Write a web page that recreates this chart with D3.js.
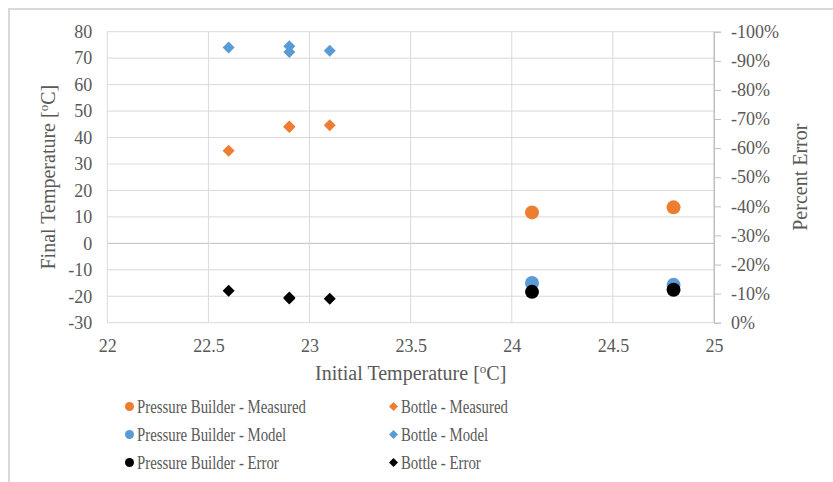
<!DOCTYPE html>
<html>
<head>
<meta charset="utf-8">
<script src="https://cdn.jsdelivr.net/npm/d3@7"></script>
<style>
  html, body { margin: 0; padding: 0; background: #fff; }
  svg { display: block; font-family: "Liberation Serif", "Times New Roman", serif; }
  svg text { font-family: "Liberation Serif", "Times New Roman", serif !important; }
</style>
</head>
<body>
<svg id="chart" width="833" height="482"></svg>
<script>
// ---- Data ----
const bottleInitial = [22.6, 22.9, 22.9, 23.1];
const bottleMeasured = [35.0, 44.2, 44.0, 44.6];
const bottleModel = [74.0, 74.5, 72.3, 72.8];
const bottleError = [-11.0, -8.7, -8.3, -8.2];   // percent

const pbInitial = [24.1, 24.8];
const pbMeasured = [11.7, 13.6];
const pbModel = [-15.0, -15.7];
const pbError = [-10.6, -11.3];                  // percent

const xTicks = [22, 22.5, 23, 23.5, 24, 24.5, 25];
const yTicks = [80, 70, 60, 50, 40, 30, 20, 10, 0, -10, -20, -30];
const y2Ticks = [-100, -90, -80, -70, -60, -50, -40, -30, -20, -10, 0];

const seriesNames = [
  "Pressure Builder - Measured", "Bottle - Measured",
  "Pressure Builder - Model", "Bottle - Model",
  "Pressure Builder - Error", "Bottle - Error"
];

// ---- Layout ----
const svg = d3.select("#chart");
const pLeft = 107.3, pRight = 714, pTop = 31.7, pBottom = 322.7;
const orange = "#ED7D31", blue = "#5B9BD5", black = "#000000";
const textColor = "#595959";
const serif = "Liberation Serif";

const x = d3.scaleLinear().domain([22, 25]).range([pLeft, pRight]);
const y = d3.scaleLinear().domain([-30, 80]).range([pBottom, pTop]);
const y2 = d3.scaleLinear().domain([0, -100]).range([pBottom, pTop]);

// chart border
svg.append("rect").attr("x", 9).attr("y", 9).attr("width", 900).attr("height", 600)
  .attr("fill", "none").attr("stroke", "#d9d9d9").attr("stroke-width", 2);

// gridlines
const grid = svg.append("g");
grid.selectAll(".hg").data(yTicks).enter().append("line")
  .attr("x1", pLeft).attr("x2", pRight)
  .attr("y1", d => y(d)).attr("y2", d => y(d))
  .attr("stroke", d => d === 0 ? "#bfbfbf" : "#d9d9d9").attr("stroke-width", 1);
grid.selectAll(".vg").data(xTicks).enter().append("line")
  .attr("x1", d => x(d)).attr("x2", d => x(d))
  .attr("y1", pTop).attr("y2", pBottom)
  .attr("stroke", d => d === 25 ? "#bfbfbf" : "#d9d9d9").attr("stroke-width", 1);

const hyphen = d => String(d).replace("\u2212", "-");

// left axis
const yAxis = d3.axisLeft(y).tickValues(yTicks).tickSize(0).tickPadding(15)
  .tickFormat(d => hyphen(d));
const gy = svg.append("g").attr("transform", `translate(${pLeft},0)`).call(yAxis)
  .attr("font-family", serif);
gy.select(".domain").remove();
gy.selectAll("text").attr("fill", textColor).style("font-size", "18px");

// right axis
const y2Axis = d3.axisRight(y2).tickValues(y2Ticks).tickSize(7).tickPadding(10)
  .tickFormat(d => hyphen(d) + "%");
const gy2 = svg.append("g").attr("transform", `translate(${pRight},0)`).call(y2Axis)
  .attr("font-family", serif);
gy2.select(".domain").attr("stroke", "#bfbfbf");
gy2.selectAll(".tick line").attr("stroke", "#bfbfbf");
gy2.selectAll("text").attr("fill", textColor).style("font-size", "18px");

// bottom axis
const xAxis = d3.axisBottom(x).tickValues(xTicks).tickSize(0).tickPadding(17)
  .tickFormat(d => String(d));
const gx = svg.append("g").attr("transform", `translate(0,${pBottom})`).call(xAxis)
  .attr("font-family", serif);
gx.select(".domain").remove();
gx.selectAll("text").attr("fill", textColor).style("font-size", "18px");

// axis titles
function degTitle(sel, base) {
  sel.append("tspan").text(base + " [");
  sel.append("tspan").text("o").attr("baseline-shift", "super").style("font-size", "13px");
  sel.append("tspan").text("C]");
}
const xt = svg.append("text").attr("x", (pLeft + pRight) / 2).attr("y", 380)
  .attr("text-anchor", "middle").attr("fill", textColor).style("font-size", "20px");
degTitle(xt, "Initial Temperature");

const yt = svg.append("text")
  .attr("transform", `translate(55,${(pTop + pBottom) / 2}) rotate(-90)`)
  .attr("text-anchor", "middle").attr("fill", textColor).style("font-size", "20px");
degTitle(yt, "Final Temperature");

svg.append("text")
  .attr("transform", `translate(807,${(pTop + pBottom) / 2}) rotate(-90)`)
  .attr("text-anchor", "middle").attr("fill", textColor).style("font-size", "20px")
  .text("Percent Error");

// ---- Markers ----
const diamond = d3.symbol().type(d3.symbolSquare).size(72)();
const diamondSmall = d3.symbol().type(d3.symbolSquare).size(40)();

const marks = svg.append("g");
function circles(xs, ys, scale, color) {
  marks.append("g").selectAll("circle").data(xs.map((d, i) => [d, ys[i]])).enter()
    .append("circle").attr("cx", d => x(d[0])).attr("cy", d => scale(d[1]))
    .attr("r", 7).attr("fill", color);
}
function diamonds(xs, ys, scale, color) {
  marks.append("g").selectAll("path").data(xs.map((d, i) => [d, ys[i]])).enter()
    .append("path").attr("d", diamond)
    .attr("transform", d => `translate(${x(d[0])},${scale(d[1])}) rotate(45)`)
    .attr("fill", color);
}
circles(pbInitial, pbMeasured, y, orange);
diamonds(bottleInitial, bottleMeasured, y, orange);
circles(pbInitial, pbModel, y, blue);
diamonds(bottleInitial, bottleModel, y, blue);
circles(pbInitial, pbError, y2, black);
diamonds(bottleInitial, bottleError, y2, black);

// ---- Legend ----
const legendColors = [orange, orange, blue, blue, black, black];
const legend = svg.append("g");
seriesNames.forEach((name, i) => {
  const col = i % 2, row = Math.floor(i / 2);
  const mx = col === 0 ? 129.5 : 393.5;
  const my = 406.5 + row * 28;
  if (col === 0) {
    legend.append("circle").attr("cx", mx).attr("cy", my).attr("r", 4.5).attr("fill", legendColors[i]);
  } else {
    legend.append("path").attr("d", diamondSmall)
      .attr("transform", `translate(${mx},${my}) rotate(45)`).attr("fill", legendColors[i]);
  }
  legend.append("text")
    .attr("transform", `translate(${mx + 7.5},${my + 6.5}) scale(0.8,1)`)
    .attr("fill", textColor).style("font-size", "18.5px").text(name);
});
</script>
</body>
</html>
